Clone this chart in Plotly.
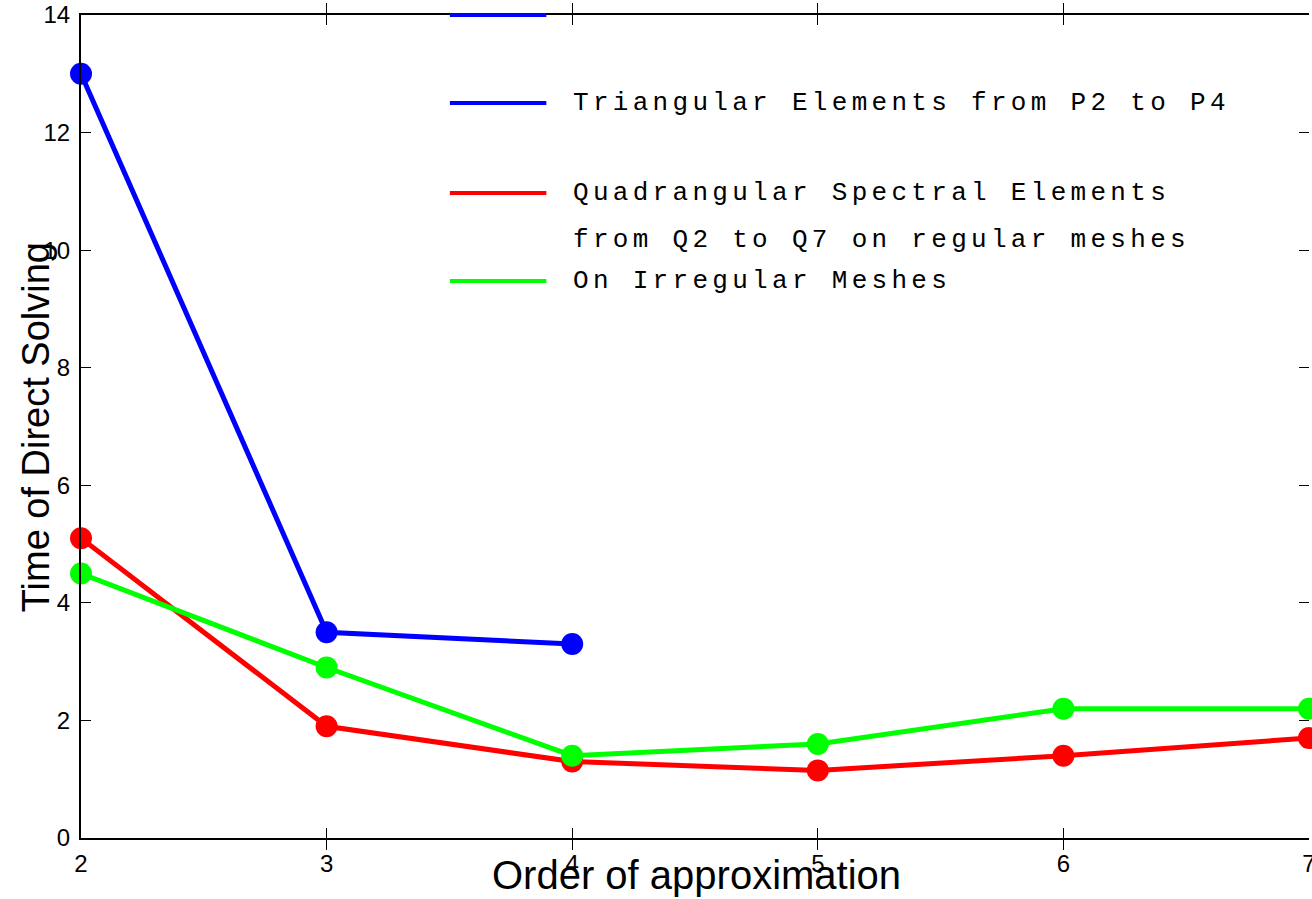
import plotly.graph_objects as go

# ---- data ----
orders = [2, 3, 4, 5, 6, 7]
tri_orders = [2, 3, 4]
tri_time = [13.0, 3.5, 3.3]
quad_time = [5.1, 1.9, 1.3, 1.15, 1.4, 1.7]
irreg_time = [4.5, 2.9, 1.4, 1.6, 2.2, 2.2]

x_ticks = [2, 3, 4, 5, 6, 7]
y_ticks = [0, 2, 4, 6, 8, 10, 12, 14]

series_names = ["Triangular Elements from P2 to P4",
                "Quadrangular Spectral Elements",
                "On Irregular Meshes"]
extra_label = "from Q2 to Q7 on regular meshes"

x_title = "Order of approximation"
y_title = "Time of Direct Solving"

BLUE, RED, GREEN = "#0000ff", "#ff0000", "#00ff00"

# figure is a few pixels wider than the window so the right edge is cut like the original
W, H = 1316, 899
L, R, T, B = 81, 0, 15, 61
PW, PH = W - L - R, H - T - B


def px(x):
    return (x - L) / PW


def py(y):
    return (H - B - y) / PH


fig = go.Figure()
for xs, ys, col in [(tri_orders, tri_time, BLUE),
                    (orders, quad_time, RED),
                    (orders, irreg_time, GREEN)]:
    fig.add_trace(go.Scatter(
        x=xs, y=ys, mode="lines+markers",
        line=dict(color=col, width=5),
        marker=dict(color=col, size=22),
        cliponaxis=False, showlegend=False))

# invisible trace to carry the right-side mirrored ticks
fig.add_trace(go.Scatter(x=[2], y=[0], yaxis="y2", mode="markers",
                         marker=dict(opacity=0), showlegend=False, hoverinfo="skip"))

# custom legend (MATLAB-style)
mono = dict(family="Courier New, Liberation Mono, monospace", size=26, color="black")
legend_rows = [
    (15, BLUE, None),
    (103, BLUE, series_names[0]),
    (193, RED, series_names[1]),
    (240, None, extra_label),
    (281, GREEN, series_names[2]),
]
for ypix, col, label in legend_rows:
    if col:
        fig.add_shape(type="line", xref="paper", yref="paper",
                      x0=px(452), x1=px(549), y0=py(ypix), y1=py(ypix),
                      line=dict(color=col, width=4))
    if label:
        fig.add_annotation(xref="paper", yref="paper", x=px(574), y=py(ypix),
                           xanchor="left", yanchor="middle", showarrow=False,
                           text='<span style="letter-spacing:4.3px">' + label + '</span>',
                           font=mono)

# axis titles (placed like the MATLAB original, overlapping tick labels)
fig.add_annotation(xref="paper", yref="paper", x=px(700), y=py(875),
                   xanchor="center", yanchor="middle", showarrow=False,
                   text=x_title,
                   font=dict(family="Liberation Sans, Arial", size=40, color="black"))
fig.add_annotation(xref="paper", yref="paper", x=px(36), y=py(427),
                   xanchor="center", yanchor="middle", showarrow=False,
                   textangle=-90, text=y_title,
                   font=dict(family="Liberation Sans, Arial", size=38, color="black"))

tickfont = dict(family="Liberation Sans, Arial", size=24, color="black")
axis_common = dict(showline=True, linecolor="black", linewidth=2,
                   ticks="inside", ticklen=10, tickcolor="black", tickwidth=1,
                   showgrid=False, zeroline=False, tickfont=tickfont,
                   ticklabeloverflow="allow")

fig.update_layout(
    xaxis=dict(range=[2, 7], tickvals=x_ticks, mirror="allticks",
               ticklabelstandoff=3, **axis_common),
    yaxis=dict(range=[0, 14], tickvals=y_ticks, mirror=False,
               ticklabelstandoff=4, **axis_common),
    yaxis2=dict(range=[0, 14], tickvals=y_ticks, overlaying="y", side="right",
                showline=False, ticks="inside", ticklen=10, tickcolor="black",
                tickwidth=1, showticklabels=False, showgrid=False, zeroline=False),
    width=W, height=H, margin=dict(l=L, r=R, t=T, b=B),
    plot_bgcolor="white", paper_bgcolor="white")

fig.write_html("out.html", config={"displayModeBar": False},
               post_script="document.body.style.margin='0px';document.body.style.overflow='hidden';")
